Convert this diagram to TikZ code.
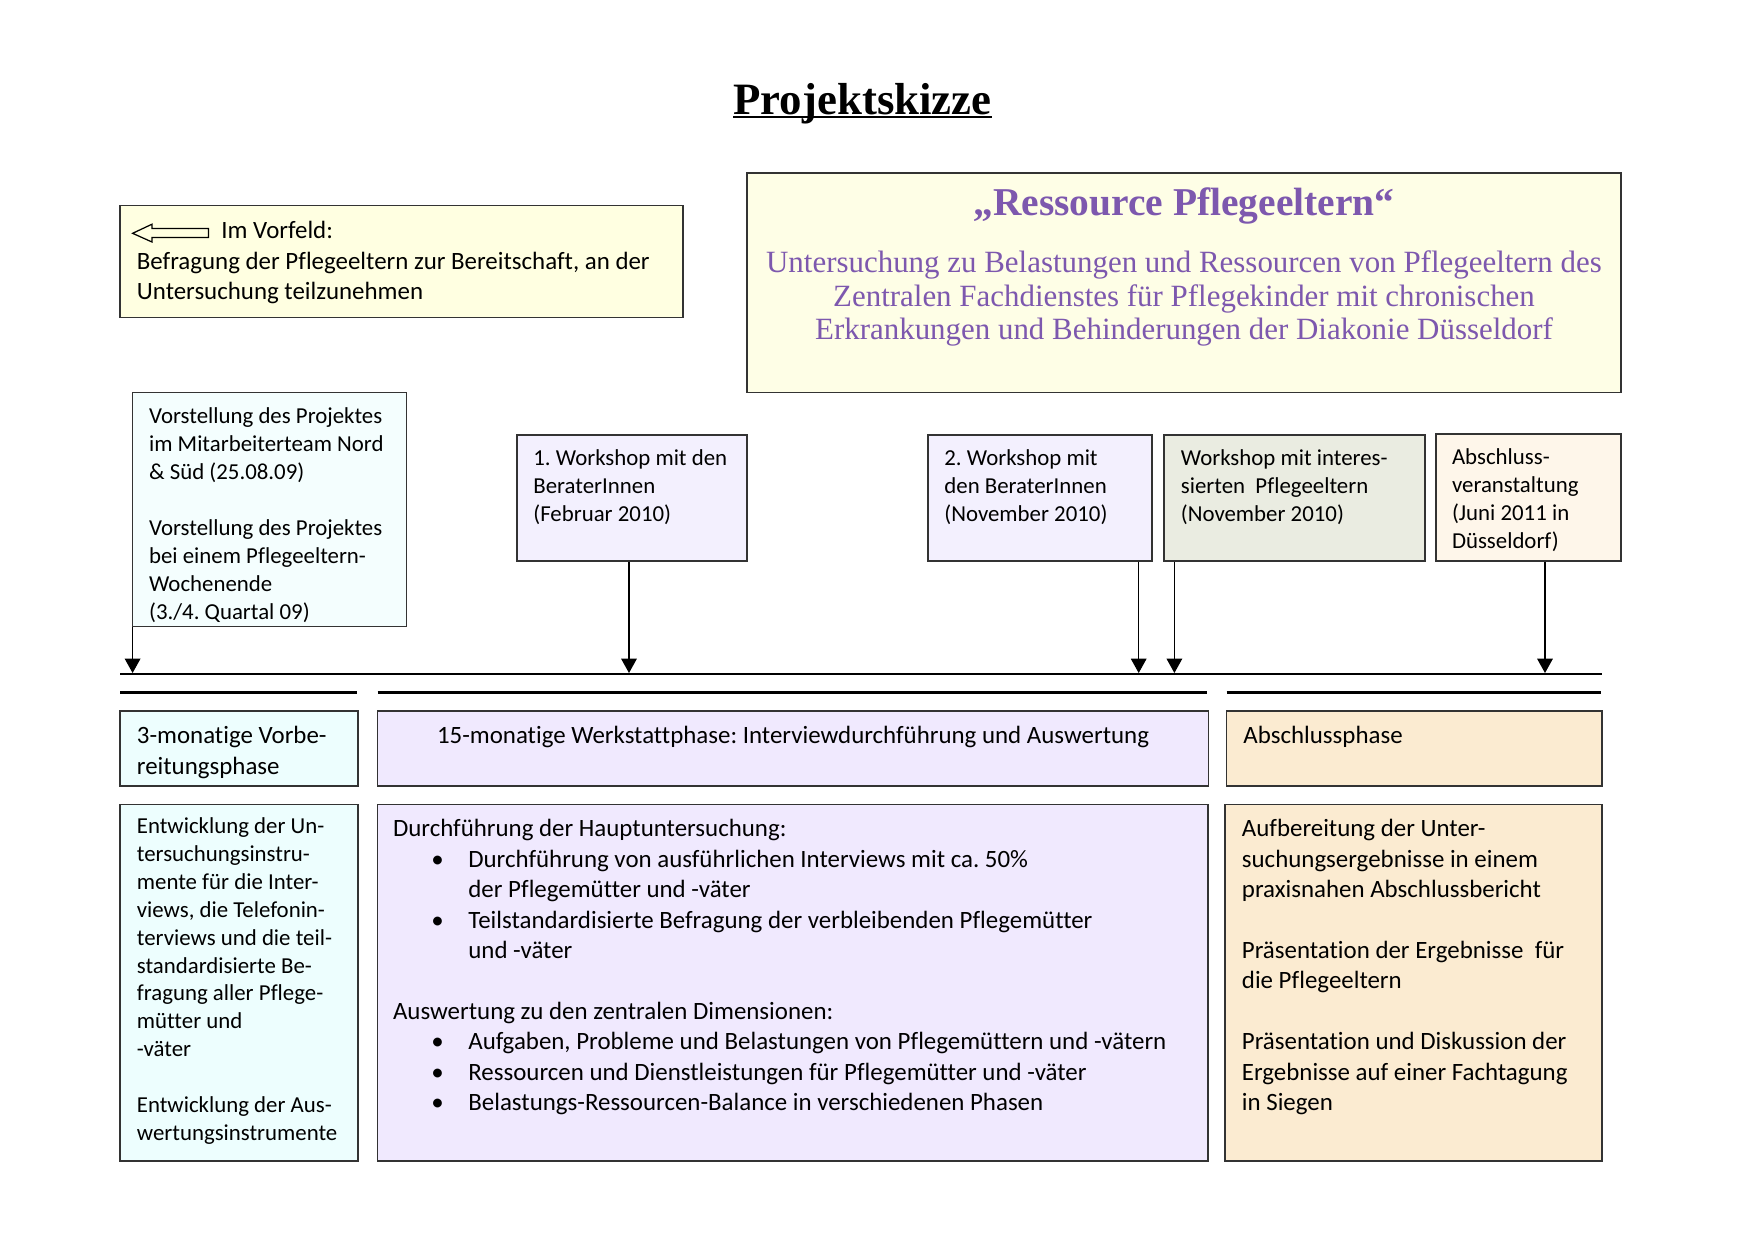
\documentclass[tikz,border=0pt]{standalone}
\usepackage{fontspec}
\setmainfont{Carlito}[Ligatures=NoCommon]
\newfontfamily\headserif{Liberation Serif}
\usetikzlibrary{arrows.meta,fit}
\definecolor{purp}{HTML}{7D58AE}
\definecolor{yelA}{HTML}{FFFFE1}
\definecolor{yelB}{HTML}{FEFEE6}
\definecolor{cyanA}{HTML}{F4FEFE}
\definecolor{lavA}{HTML}{F3F0FE}
\definecolor{grnA}{HTML}{EAECE1}
\definecolor{crmA}{HTML}{FEF6EA}
\definecolor{cyanB}{HTML}{EDFEFE}
\definecolor{lavB}{HTML}{F0E9FE}
\definecolor{peachB}{HTML}{FBEBD1}
\newcommand{\bul}{\hspace*{18.5pt}\makebox[17.8pt][l]{\textbullet}}
\newcommand{\ind}{\hspace*{36.3pt}}
\newcommand{\fl}{\rule{0pt}{10pt}}
\frenchspacing
\begin{document}
\frenchspacing
\begin{tikzpicture}[x=0.16933mm,y=-0.16933mm,
  box/.style={draw=black!80, line width=0.8pt, inner sep=0pt},
  arr/.style={-{Triangle[length=6.9pt,width=7.5pt]}, line width=0.6pt},
  txtS/.style={anchor=north west, inner sep=0pt, align=left, font=\fontsize{11}{13.43}\selectfont},
  txtL/.style={anchor=north west, inner sep=0pt, align=left, font=\fontsize{12}{14.65}\selectfont},
  phaserule/.style={line width=1.6pt},
  subt/.style={anchor=base, inner sep=0pt, text=purp, font=\headserif\fontsize{14.9}{16.1}\selectfont}]
\useasboundingbox (0,0) rectangle (1754,1241);

% title
\node[anchor=base, inner sep=0pt, font=\headserif\bfseries\fontsize{21.6}{26}\selectfont] (title) at (862.5,114.7) {Projektskizze};
\draw[line width=1pt] ([yshift=-1.3pt]title.base west) -- ([yshift=-1.3pt]title.base east);

% Im Vorfeld box
\node[box, fill=yelA, fit={(120,205.6)(683,317.5)}] (vorfeld) {};
\draw[line width=0.6pt] (132.6,233.3) -- (152,224.2) -- (152,228.5) -- (208.6,228.5) -- (208.6,237.6) -- (152,237.6) -- (152,242) -- cycle;
\node[anchor=base west, inner sep=0pt, font=\fontsize{12}{14.65}\selectfont] (vorfeldA) at (221,238) {Im Vorfeld:};
\node[txtL] (vorfeldB) at (136.5,248.2) {\fl Befragung der Pflegeeltern zur Bereitschaft, an der\\Untersuchung teilzunehmen};

% main box
\node[box, fill=yelB, fit={(747,172.8)(1621,392.6)}] (main) {};
\node[anchor=base, inner sep=0pt, text=purp, font=\headserif\bfseries\fontsize{19}{23}\selectfont] (mainH) at (1184,215.5) {„Ressource Pflegeeltern“};
\node[subt] (mainA) at (1184,272.5) {Untersuchung zu Belastungen und Ressourcen von Pflegeeltern des};
\node[subt] (mainB) at (1184,306) {Zentralen Fachdienstes für Pflegekinder mit chronischen};
\node[subt] (mainC) at (1184,339.5) {Erkrankungen und Behinderungen der Diakonie Düsseldorf};

% event boxes
\node[box, fill=cyanA, fit={(132.6,392.6)(406.6,626.6)}] (vorst) {};
\node[txtS] (vorstT) at (148.7,402.7) {\fl Vorstellung des Projektes\\im Mitarbeiterteam Nord\\\& Süd (25.08.09)\\[13.43pt]Vorstellung des Projektes\\bei einem Pflegeeltern-\\Wochenende\\(3./4. Quartal 09)};

\node[box, fill=lavA, fit={(517,435)(747,560.7)}] (wsA) {};
\node[txtS] (wsAT) at (533,444.7) {\fl 1. Workshop mit den\\BeraterInnen\\(Februar 2010)};

\node[box, fill=lavA, fit={(928,435)(1152,560.7)}] (wsB) {};
\node[txtS] (wsBT) at (944,444.2) {\fl 2. Workshop mit\\den BeraterInnen\\(November 2010)};

\node[box, fill=grnA, fit={(1164,435)(1425,560.7)}] (wsC) {};
\node[txtS] (wsCT) at (1180.5,444.2) {\fl Workshop mit interes-\\sierten~~Pflegeeltern\\(November 2010)};

\node[box, fill=crmA, fit={(1436,433.7)(1621,560.7)}] (wsD) {};
\node[txtS] (wsDT) at (1451.6,443.5) {\fl Abschluss-\\veranstaltung\\(Juni 2011 in\\Düsseldorf)};

% timeline
\coordinate (tlL) at (120,674);
\coordinate (tlR) at (1602,674);
\draw[line width=0.6pt] (tlL) -- (tlR);
\coordinate (tA) at (132.6,673);
\coordinate (tB) at (629,673);
\coordinate (tC) at (1138.7,673);
\coordinate (tD) at (1174.4,673);
\coordinate (tE) at (1545,673);
\draw[arr] (tA |- vorst.south) -- (tA);
\draw[arr] (tB |- wsA.south) -- (tB);
\draw[arr] (tC |- wsB.south) -- (tC);
\draw[arr] (tD |- wsC.south) -- (tD);
\draw[arr] (tE |- wsD.south) -- (tE);

% phase rules
\coordinate (rA1) at (120,692.4); \coordinate (rA2) at (357,692.4);
\coordinate (rB1) at (377.5,692.4); \coordinate (rB2) at (1207,692.4);
\coordinate (rC1) at (1226.5,692.4); \coordinate (rC2) at (1601,692.4);
\draw[phaserule] (rA1) -- (rA2);
\draw[phaserule] (rB1) -- (rB2);
\draw[phaserule] (rC1) -- (rC2);

% phase boxes
\node[box, fill=cyanB, fit={(120,710.8)(358,786)}] (phA) {};
\node[txtL] (phAT) at (136.5,722.7) {\fl 3-monatige Vorbe-\\reitungsphase};
\node[box, fill=lavB, fit={(377.5,710.8)(1208.6,786)}] (phB) {};
\node[anchor=base, inner sep=0pt, font=\fontsize{12}{14.65}\selectfont] (phBT) at (793,743.5) {15-monatige Werkstattphase: Interviewdurchführung und Auswertung};
\node[box, fill=peachB, fit={(1226.5,710.8)(1602,786)}] (phC) {};
\node[anchor=base west, inner sep=0pt, font=\fontsize{12}{14.65}\selectfont] (phCT) at (1243,743.5) {Abschlussphase};

% lower boxes
\node[box, fill=cyanB, fit={(120,804.4)(358,1161)}] (loA) {};
\node[txtS] (loAT) at (136.5,812.5) {\fl Entwicklung der Un-\\tersuchungsinstru-\\mente für die Inter-\\views, die Telefonin-\\terviews und die teil-\\standardisierte Be-\\fragung aller Pflege-\\mütter und\\-väter\\[13.43pt]Entwicklung der Aus-\\wertungsinstrumente};

\node[box, fill=lavB, fit={(377.5,804.4)(1208,1161)}] (loB) {};
\node[txtL] (loBT) at (392.6,815.7) {\fl Durchführung der Hauptuntersuchung:\\
\bul Durchführung von ausführlichen Interviews mit ca. 50\%\\
\ind der Pflegemütter und -väter\\
\bul Teilstandardisierte Befragung der verbleibenden Pflegemütter\\
\ind und -väter\\[14.65pt]
Auswertung zu den zentralen Dimensionen:\\
\bul Aufgaben, Probleme und Belastungen von Pflegemüttern und -vätern\\
\bul Ressourcen und Dienstleistungen für Pflegemütter und -väter\\
\bul Belastungs-Ressourcen-Balance in verschiedenen Phasen};

\node[box, fill=peachB, fit={(1225,804.4)(1602,1161)}] (loC) {};
\node[txtL] (loCT) at (1241.5,815.7) {\fl Aufbereitung der Unter-\\suchungsergebnisse in einem\\praxisnahen Abschlussbericht\\[14.65pt]Präsentation der Ergebnisse~~für\\die Pflegeeltern\\[14.65pt]Präsentation und Diskussion der\\Ergebnisse auf einer Fachtagung\\in Siegen};
\end{tikzpicture}
\end{document}
